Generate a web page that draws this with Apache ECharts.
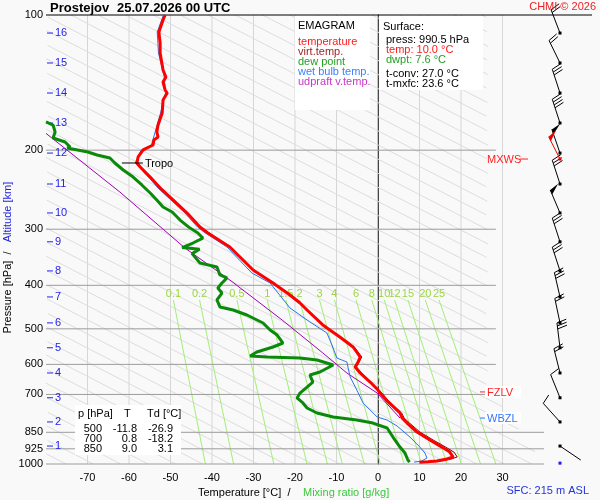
<!DOCTYPE html>
<html>
<head>
<meta charset="utf-8">
<script src="https://cdn.jsdelivr.net/npm/echarts/dist/echarts.min.js"></script>
<style>
html,body{margin:0;padding:0;background:#f9f9f9;}
#main{width:600px;height:500px;}
</style>
</head>
<body>
<div id="main"></div>
<script>
var FONT = '"Liberation Sans", Arial, Helvetica, sans-serif';
var F11 = '11px ' + FONT;
var T_MIN = -80, T_MAX = 40;
var UPPER_LINE_END = 28.4;   // pressure lines above 850 hPa stop here

// axes
var pressureLevels = [100, 200, 300, 400, 500, 600, 700, 850, 925, 1000];
var isotherms = [-70, -60, -50, -40, -30, -20, -10, 0, 10, 20, 30];

// altitude scale (km -> hPa)
var altKm = [1, 2, 3, 4, 5, 6, 7, 8, 9, 10, 11, 12, 13, 14, 15, 16];
var altP = [912, 806, 712, 627, 551, 485, 424.6, 371.5, 320, 276, 237.9, 203, 174, 149.2, 127.9, 109.7];

// mixing ratio lines [g/kg], temperature at top (431 hPa) and at 1000 hPa
var mixRatio = [0.1, 0.2, 0.5, 1, 1.5, 2, 3, 4, 6, 8, 10, 12, 15, 20, 25];
var mixTopP = 431, mixBottomP = 1000;
var mixTopT = [-49.3, -43.0, -34.0, -26.7, -22.2, -18.9, -14.1, -10.5, -5.3, -1.5, 1.5, 4.0, 7.2, 11.4, 14.7];
var mixBottomT = [-41.6, -34.8, -25.1, -17.1, -12.2, -8.6, -3.3, 0.6, 6.3, 10.5, 13.9, 16.6, 20.1, 24.7, 28.4];

// background diagonals (T at 1000 hPa, step, change per pressure decade)
var DIAG_FIRST = -75.2, DIAG_STEP = 6.6, DIAG_COUNT = 48, DIAG_K = 210;

// temperature
var tempP = [100,102.6,109.1,115.4,121.5,129.2,132.6,137.4,141.0,146.9,149.2,154.7,165.3,175.8,182.2,186.9,189.8,194.8,199.8,207.1,213.6,218.1,229.6,242.9,258.2,276.1,296.6,305.9,328.6,369.8,395.3,420.4,437.9,453.9,490.1,521.3,548.8,577.7,592.7,608.1,627.1,656.9,684.4,700,720.4,769.9,790.0,810.6,848.8,884.3,916.9,940.7,964.7,974.7,984.7,988,990.5];
var tempT = [-51.3,-51.8,-52.8,-52.5,-52.5,-52.0,-51.8,-51.1,-51.8,-51.3,-50.8,-51.8,-52.0,-53.0,-53.3,-53.0,-54.0,-54.2,-56.6,-57.8,-58.1,-57.3,-54.9,-52.5,-49.4,-46.0,-42.9,-41.0,-35.7,-30.1,-25.3,-21.2,-18.8,-17.1,-13.3,-9.2,-6.0,-4.3,-4.8,-5.5,-4.3,-1.9,0.0,0.8,2.0,5.3,5.8,7.0,9.4,12.5,15.4,17.3,18.1,16.6,14.2,12.0,10.0];

// virtual temperature
var virtP = [213.6,229.6,258.2,296.6,328.6,369.8,420.4,490.1,548.8,577.7,608.1,627.1,684.4,720.4,769.9,790,810.6,848.8,884.3,916.9,940.7,964.7,974.7,984.7,990.5];
var virtT = [-58.0,-54.8,-49.3,-42.8,-35.6,-29.9,-21.0,-13.1,-5.7,-3.9,-5.2,-3.9,0.3,2.4,5.7,6.3,7.6,10.1,13.3,16.3,18.3,19.1,17.6,15.2,11.3];

// dew point
var dewP = [173.1,175.8,182.2,187.9,191.8,196.8,197.8,201.9,205.0,208.2,213.6,221.4,229.6,239.1,249.1,258.2,267.7,274.7,286.2,298.2,305.9,313.9,322.0,329.5,332.5,340.0,356.6,364.0,379.3,385.2,395.3,405.5,416.1,431.2,446.9,453.9,465.8,485.3,503.0,516.1,537.7,548.8,563.2,574.9,577.7,580.7,586.7,601.9,623.9,633.6,656.9,673.9,695.0,712.8,731.3,750.4,769.9,785.9,798.1,810.6,831.5,870.9,916.9,945.2,979.7,990.5];
var dewT = [-80.0,-78.3,-77.8,-78.3,-75.4,-74.2,-74.9,-69.9,-67.7,-64.6,-63.4,-61.4,-59.0,-56.9,-54.9,-53.3,-51.8,-49.6,-47.7,-45.3,-43.4,-42.2,-44.6,-47.2,-43.0,-44.8,-42.9,-38.8,-38.1,-36.4,-37.6,-38.6,-37.6,-38.8,-38.1,-34.9,-31.6,-27.7,-26.0,-24.3,-22.9,-25.3,-29.2,-30.8,-26.7,-18.8,-14.7,-10.8,-14.0,-16.4,-15.7,-17.1,-18.8,-19.5,-18.1,-17.1,-14.7,-10.8,-5.1,-1.2,2.2,3.6,5.3,6.5,7.2,7.6];

// wet bulb temperature
var wetP = [100,109.1,121.5,137.4,149.2,165.3,182.2,194.8,199.8,213.6,229.6,242.9,258.2,276.1,296.6,305.9,328.6,375.5,395.3,449.4,482.7,510.8,543.3,580.7,592.7,611.1,640.2,684.4,731.3,758.0,785.9,798.1,823.0,870.9,916.9,945.2,969.6,985,990.5];
var wetT = [-51.7,-53.2,-52.9,-51.5,-51.2,-52.4,-53.7,-54.6,-57.0,-58.5,-55.3,-53.0,-49.9,-46.5,-43.5,-41.6,-36.4,-30.4,-26.0,-21.2,-16.4,-12.3,-11.1,-9.9,-7.5,-7.2,-6.7,-5.1,-3.6,-1.9,-0.2,2.2,4.6,7.7,10.1,11.3,11.8,10.5,8.7];

// updraft virtual temperature
var updP = [183.5,247.9,330.4,389.2,477.9,565.8,627.1,695.0,790.0];
var updT = [-80.0,-62.2,-46.5,-35.7,-23.1,-13.3,-7.5,-0.2,5.3];

// wind barbs at each km
var barbDir = [124, 318, 338, 346, 353, 348, 347, 342, 342, 337, 342, 341, 342, 342, 334, 339];
var barbSpd = [2, 10, 10, 20, 30, 20, 30, 30, 30, 50, 30, 50, 40, 30, 20, 20];
var mxwsP = 209.3, mxwsDir = 333, mxwsSpd = 50;

// levels
var tropoP = 213.6, tropoT = -58.1;
var fzlvP = 691, wbzlP = 790;

// surface / table
var sfcPress = 990.5, sfcTemp = 10.0, sfcDwpt = 7.6, tConv = 27.0, tMxfc = 23.6;
var tableP = [500, 700, 850];
var tableT = [-11.8, 0.8, 9.0];
var tableTd = [-26.9, -18.2, 3.1];

var BARB_LEN = 25, FEATHER = 10, BARB_ANGLE = 75;

function pairs(xs, ps) {
    return ps.map(function (p, i) { return [xs[i], p]; });
}

function txt(x, y, s, color, align, extra) {
    var e = {
        type: 'text', x: x, y: y, z: 100,
        style: {text: s, fill: color || '#000', font: F11,
            textAlign: align || 'left', textVerticalAlign: 'middle'}
    };
    if (extra) { for (var k in extra) e[k] = extra[k]; }
    return e;
}

function seg(x1, y1, x2, y2, color, w) {
    return {type: 'line', shape: {x1: x1, y1: y1, x2: x2, y2: y2},
        style: {stroke: color, lineWidth: w || 1}};
}

function drawBarb(x, y, dir, spd, color) {
    var out = [{type: 'rect', shape: {x: x - 1.5, y: y - 1.5, width: 3, height: 3}, style: {fill: color}}];
    if (spd <= 0) return out;
    var r = dir * Math.PI / 180;
    var ux = Math.sin(r), uy = -Math.cos(r);
    var tx = x + ux * BARB_LEN, ty = y + uy * BARB_LEN;
    out.push(seg(x, y, tx, ty, color, 1));
    var a = BARB_ANGLE * Math.PI / 180;
    var fx = ux * Math.cos(a) - uy * Math.sin(a);
    var fy = ux * Math.sin(a) + uy * Math.cos(a);
    var left = Math.round(spd / 5) * 5, pos = 0;
    while (left >= 50) {
        var ax = tx - ux * pos, ay = ty - uy * pos;
        var cx = tx - ux * (pos + 5), cy = ty - uy * (pos + 5);
        out.push({type: 'polygon', shape: {points: [[ax, ay], [ax + fx * FEATHER, ay + fy * FEATHER], [cx, cy]]},
            style: {fill: color}});
        pos += 6; left -= 50;
    }
    while (left >= 10) {
        var bx = tx - ux * pos, by = ty - uy * pos;
        out.push(seg(bx, by, bx + fx * FEATHER, by + fy * FEATHER, color, 1));
        pos += 3; left -= 10;
    }
    if (left >= 5) {
        if (pos === 0) pos = 3;
        var hx = tx - ux * pos, hy = ty - uy * pos;
        out.push(seg(hx, hy, hx + fx * FEATHER / 2, hy + fy * FEATHER / 2, color, 1));
    }
    return out;
}

var diagStarts = [];
for (var d = 0; d < DIAG_COUNT; d++) diagStarts.push([DIAG_FIRST + d * DIAG_STEP, 1000]);

function diagRightEdge(y) {
    return y <= 385 ? 488 : 488 + (y - 385) * 57 / 79;
}

var chart = echarts.init(document.getElementById('main'));

var graphics = [
    // boxes
    {type: 'rect', z: 90, shape: {x: 295, y: 16, width: 75, height: 94}, style: {fill: '#fff'}},
    {type: 'rect', z: 90, shape: {x: 379, y: 16, width: 104, height: 74}, style: {fill: '#fff'}},
    {type: 'rect', z: 90, shape: {x: 75, y: 405, width: 106, height: 50}, style: {fill: '#fff'}},
    // title
    txt(50, 8, 'Prostejov', '#000', 'left', {style: {text: 'Prostejov', fill: '#000', font: 'bold 13px ' + FONT, textVerticalAlign: 'middle'}}),
    txt(117, 8, '25.07.2026 00 UTC', '#000', 'left', {style: {text: '25.07.2026 00 UTC', fill: '#000', font: 'bold 13px ' + FONT, textVerticalAlign: 'middle'}}),
    txt(596, 7, 'CHMI © 2026', '#ee2222', 'right'),
    // legend
    txt(298, 26, 'EMAGRAM', '#000'),
    txt(298, 42, 'temperature', '#ff1a1a'),
    txt(298, 52, 'virt.temp.', '#a02424'),
    txt(298, 62, 'dew point', '#22a022'),
    txt(298, 72, 'wet bulb temp.', '#3a80ff'),
    txt(298, 82, 'udpraft v.temp.', '#cc33cc'),
    // surface
    txt(383, 27, 'Surface:', '#000'),
    txt(386, 40, 'press: ' + sfcPress.toFixed(1) + ' hPa', '#000'),
    txt(386, 50, 'temp: ' + sfcTemp.toFixed(1) + ' °C', '#ff1a1a'),
    txt(386, 60, 'dwpt: ' + sfcDwpt.toFixed(1) + ' °C', '#22a022'),
    txt(386, 74, 't-conv: ' + tConv.toFixed(1) + ' °C', '#000'),
    txt(386, 84, 't-mxfc: ' + tMxfc.toFixed(1) + ' °C', '#000'),
    // table header
    txt(78, 414, 'p [hPa]', '#000'),
    txt(124, 414, 'T', '#000'),
    txt(147, 414, 'Td [°C]', '#000'),
    // axis names
    txt(8, 297, 'Pressure [hPa]', '#000', 'center', {rotation: Math.PI / 2}),
    txt(8, 253, '/', '#000', 'center', {rotation: Math.PI / 2}),
    txt(8, 212, 'Altitude [km]', '#2222dd', 'center', {rotation: Math.PI / 2}),
    txt(198, 493, 'Temperature [°C]', '#000'),
    txt(289, 493, '/', '#000', 'center'),
    txt(303, 493, 'Mixing ratio [g/kg]', '#3cc83c'),
    txt(589, 491, 'SFC: 215 m ASL', '#2233dd', 'right')
];
tableP.forEach(function (p, i) {
    var y = 429 + i * 10;
    graphics.push(txt(102, y, String(p), '#000', 'right'));
    graphics.push(txt(137, y, tableT[i].toFixed(1), '#000', 'right'));
    graphics.push(txt(173, y, tableTd[i].toFixed(1), '#000', 'right'));
});

var option = {
    backgroundColor: '#f9f9f9',
    animation: false,
    textStyle: {fontFamily: FONT},
    grid: {left: 46, top: 15, width: 498, height: 449, containLabel: false, outerBoundsMode: 'none'},
    xAxis: {
        type: 'value', min: T_MIN, max: T_MAX, interval: 10,
        axisLine: {show: false}, axisTick: {show: false}, splitLine: {show: false},
        axisLabel: {
            margin: 8, fontSize: 11, color: '#000', fontFamily: FONT,
            formatter: function (v) { return (v > T_MIN && v < T_MAX) ? String(v) : ''; }
        }
    },
    yAxis: {
        type: 'log', logBase: 10, min: 100, max: 1000, inverse: true,
        axisLine: {show: true, lineStyle: {color: '#000', width: 1}},
        axisTick: {show: false}, axisLabel: {show: false}, splitLine: {show: false}
    },
    graphic: {elements: graphics},
    series: [
        {   // isotherms
            type: 'custom', z: 1, silent: true, clip: false,
            data: isotherms.map(function (t) { return [t, 500]; }),
            renderItem: function (params, api) {
                var t = api.value(0);
                var a = api.coord([t, 100]), b = api.coord([t, 1000]);
                return seg(a[0], a[1], b[0], b[1], t === 0 ? '#8c8c8c' : '#d6d6d6', 1);
            }
        },
        {   // diagonals
            type: 'custom', z: 1, silent: true, clip: false,
            data: diagStarts,
            renderItem: function (params, api) {
                var t0 = api.value(0);
                var leftX = api.coord([T_MIN, 1000])[0];
                var pts = [];
                for (var k = 0; k <= 400; k++) {
                    var p = 100 * Math.pow(10, k / 400);
                    var c = api.coord([t0 + DIAG_K * Math.log10(p / 1000), p]);
                    if (c[0] >= leftX && c[0] <= diagRightEdge(c[1])) pts.push(c);
                }
                if (pts.length < 2) return null;
                return {type: 'polyline', shape: {points: pts}, style: {stroke: '#dcdcdc', lineWidth: 1, fill: null}};
            }
        },
        {   // mixing ratio lines
            type: 'custom', z: 1, silent: true, clip: false,
            data: mixRatio.map(function (w, i) { return [mixTopT[i], mixTopP]; }),
            renderItem: function (params, api) {
                var i = params.dataIndex;
                var a = api.coord([mixTopT[i], mixTopP]);
                var b = api.coord([mixBottomT[i], mixBottomP]);
                return {type: 'group', children: [
                    seg(a[0], a[1], b[0], b[1], '#a4ee78', 1),
                    {type: 'text', x: a[0], y: a[1] - 6,
                        style: {text: String(mixRatio[i]), fill: '#9ad83e', font: F11,
                            textAlign: 'center', textVerticalAlign: 'middle'}}
                ]};
            }
        },
        {   // pressure lines + labels
            type: 'custom', z: 2, silent: true, clip: false,
            data: pressureLevels.map(function (p) { return [T_MIN, p]; }),
            renderItem: function (params, api) {
                var p = api.value(1);
                var a = api.coord([T_MIN, p]);
                var b = api.coord([p >= 850 ? T_MAX : UPPER_LINE_END, p]);
                var stroke = '#9c9c9c';
                if (p === 100) { b = [api.getWidth() - 8, a[1]]; stroke = '#000'; }
                return {type: 'group', children: [
                    seg(a[0], a[1], b[0], b[1], stroke, 1),
                    {type: 'text', x: a[0] - 3, y: a[1],
                        style: {text: String(p), fill: '#000', font: F11,
                            textAlign: 'right', textVerticalAlign: 'middle'}}
                ]};
            }
        },
        {   // altitude ticks
            type: 'custom', z: 3, silent: true, clip: false,
            data: altP.map(function (p) { return [T_MIN, p]; }),
            renderItem: function (params, api) {
                var c = api.coord([T_MIN, api.value(1)]);
                return {type: 'group', children: [
                    seg(c[0] + 1, c[1], c[0] + 7, c[1], '#2222ee', 1),
                    {type: 'text', x: c[0] + 9, y: c[1],
                        style: {text: String(altKm[params.dataIndex]), fill: '#2222ee', font: F11,
                            textAlign: 'left', textVerticalAlign: 'middle'}}
                ]};
            }
        },
        {name: 'udpraft v.temp.', type: 'line', z: 4, symbol: 'none', silent: true,
            data: pairs(updT, updP), lineStyle: {color: '#a000b4', width: 1}},
        {name: 'wet bulb temp.', type: 'line', z: 4, symbol: 'none', silent: true,
            data: pairs(wetT, wetP), lineStyle: {color: '#2a72ee', width: 1}},
        {name: 'virt.temp.', type: 'line', z: 4, symbol: 'none', silent: true,
            data: pairs(virtT, virtP), lineStyle: {color: '#8a0000', width: 1}},
        {name: 'dew point', type: 'line', z: 5, symbol: 'none', silent: true,
            data: pairs(dewT, dewP), lineStyle: {color: '#0a8a0a', width: 3}},
        {name: 'temperature', type: 'line', z: 6, symbol: 'none', silent: true,
            data: pairs(tempT, tempP), lineStyle: {color: '#ff0000', width: 3}},
        {   // tropopause
            type: 'custom', z: 7, silent: true, clip: false,
            data: [[tropoT, tropoP]],
            renderItem: function (params, api) {
                var c = api.coord([api.value(0), api.value(1)]);
                return {type: 'group', children: [
                    seg(c[0] - 15, c[1], c[0] + 6, c[1], '#000', 1),
                    {type: 'text', x: c[0] + 8, y: c[1] + 1,
                        style: {text: 'Tropo', fill: '#000', font: F11, textAlign: 'left', textVerticalAlign: 'middle'}}
                ]};
            }
        },
        {   // level labels
            type: 'custom', z: 7, silent: true, clip: false,
            data: [[T_MAX, mxwsP], [T_MAX, fzlvP], [T_MAX, wbzlP]],
            renderItem: function (params, api) {
                var c = api.coord([T_MAX, api.value(1)]);
                var i = params.dataIndex;
                var names = ['MXWS', 'FZLV', 'WBZL'];
                var colors = ['#ff2222', '#ff2222', '#3377ff'];
                var x = c[0] - 57, y = c[1];
                var kids = [];
                if (i > 0) kids.push({type: 'rect', shape: {x: x - 2, y: y - 6, width: 36, height: 12}, style: {fill: '#fff'}});
                kids.push({type: 'text', x: x, y: y + 1,
                    style: {text: names[i], fill: colors[i], font: F11, textAlign: 'left', textVerticalAlign: 'middle'}});
                if (i === 0) kids.push(seg(c[0] - 24, y, c[0] - 16, y, colors[i], 1));
                else kids.push(seg(c[0] - 64, y, c[0] - 59, y, colors[i], 1));
                return {type: 'group', children: kids};
            }
        },
        {   // wind barbs
            type: 'custom', z: 8, silent: true, clip: false,
            data: altP.map(function (p) { return [T_MAX, p]; }),
            renderItem: function (params, api) {
                var c = api.coord([T_MAX, api.value(1)]);
                var i = params.dataIndex;
                return {type: 'group', children: drawBarb(c[0] + 16, c[1], barbDir[i], barbSpd[i], '#000')};
            }
        },
        {   // max wind barb
            type: 'custom', z: 9, silent: true, clip: false,
            data: [[T_MAX, mxwsP]],
            renderItem: function (params, api) {
                var c = api.coord([T_MAX, api.value(1)]);
                return {type: 'group', children: drawBarb(c[0] + 16, c[1], mxwsDir, mxwsSpd, '#ee0000')};
            }
        },
        {   // surface station
            type: 'custom', z: 9, silent: true, clip: false,
            data: [[T_MAX, sfcPress]],
            renderItem: function (params, api) {
                var c = api.coord([T_MAX, api.value(1)]);
                return {type: 'group', children: drawBarb(c[0] + 16, c[1] + 1, 0, 0, '#1a1aff')};
            }
        }
    ]
};

chart.setOption(option);
</script>
</body>
</html>
